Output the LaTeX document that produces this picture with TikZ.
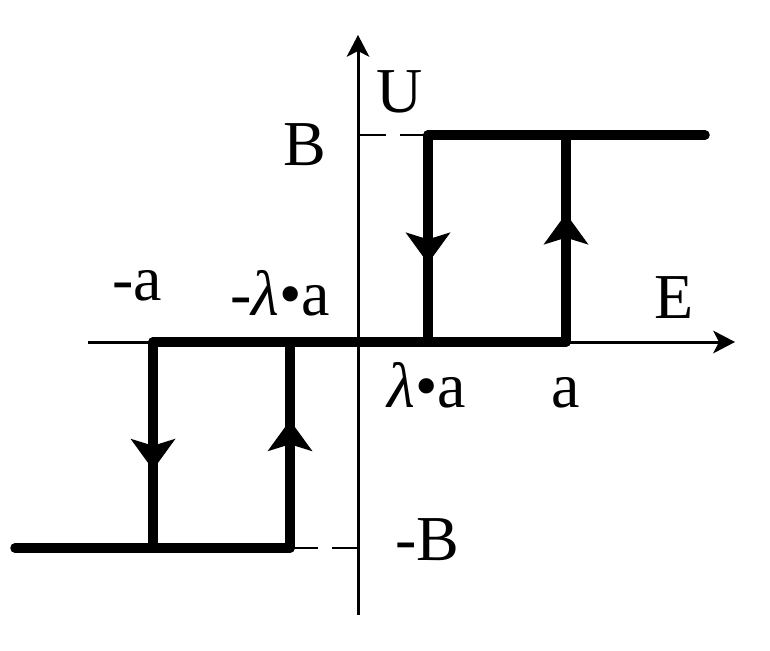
\documentclass[tikz,border=0pt]{standalone}
\usepackage{fontspec}
\setmainfont{Liberation Serif}
\usetikzlibrary{arrows.meta,decorations.markings}
\tikzset{
  axis/.style={line width=3pt,-{Stealth[length=22pt,width=23pt,inset=6pt,line width=0pt]}},
  loopline/.style={line width=9.5pt,line cap=round,line join=round},
  midarrow/.style={postaction={decorate},decoration={markings,
      mark=at position #1 with {\arrow{Stealth[length=31pt,width=45pt,inset=7pt,line width=0pt]}}}},
  guide/.style={line width=2.8pt,dash pattern=on 28pt off 14pt},
  lbl/.style={font=\fontsize{64}{70}\selectfont,inner sep=0pt,anchor=base}
}
\begin{document}
\begin{tikzpicture}[x=1pt,y=-1pt]
    \useasboundingbox (0,0) rectangle (770,650);
    \coordinate (xstart) at (88,342);
    \coordinate (xend) at (735,342);
    \coordinate (ystart) at (358,615);
    \coordinate (yend) at (358,35);
    \coordinate (yB) at (358,135);
    \coordinate (ymB) at (358,548);
    \coordinate (ma) at (153,342);
    \coordinate (mla) at (290,342);
    \coordinate (la) at (428,342);
    \coordinate (a) at (566,342);
    \coordinate (laB) at (428,135);
    \coordinate (aB) at (566,135);
    \coordinate (endB) at (705,135);
    \coordinate (maB) at (153,548);
    \coordinate (mlaB) at (290,548);
    \coordinate (endmB) at (15,548);
    \draw[axis] (xstart) -- (xend);
    \draw[axis] (ystart) -- (yend);
    \draw[guide] (yB) -- (laB);
    \draw[guide] (mlaB) -- (ymB);
    \draw[loopline] (endmB) -- (maB) -- (mlaB);
    \draw[loopline] (ma) -- (a);
    \draw[loopline] (laB) -- (endB);
    \foreach \from/\to in {laB/la, a/aB, ma/maB, mlaB/mla}{
        \draw[loopline,midarrow=0.62] (\from) -- (\to);
    }
    \node[lbl] (U) at (400,113) {U};
    \node[lbl] (B) at (305,165) {B};
    \node[lbl] (mB) at (427,560) {-B};
    \node[lbl] (E) at (674,318) {E};
    \node[lbl] (ta) at (566,407) {a};
    \node[lbl] (tma) at (137,300) {-a};
    \node[lbl] (tla) at (427,407) {\textit{λ}•a};
    \node[lbl] (tmla) at (280,315) {-\textit{λ}•a};
\end{tikzpicture}
\end{document}
